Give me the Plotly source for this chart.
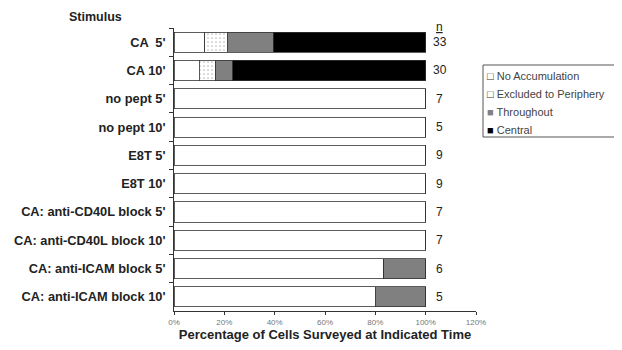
import plotly.graph_objects as go

categories = ["CA  5'", "CA 10'", "no pept 5'", "no pept 10'", "E8T 5'", "E8T 10'",
              "CA: anti-CD40L block 5'", "CA: anti-CD40L block 10'",
              "CA: anti-ICAM block 5'", "CA: anti-ICAM block 10'"]
n_cells = [33, 30, 7, 5, 9, 9, 7, 7, 6, 5]
no_accumulation = [4, 3, 7, 5, 9, 9, 7, 7, 5, 4]
excluded = [3, 2, 0, 0, 0, 0, 0, 0, 0, 0]
throughout = [6, 2, 0, 0, 0, 0, 0, 0, 1, 1]
central = [20, 23, 0, 0, 0, 0, 0, 0, 0, 0]
x_ticks = [0, 20, 40, 60, 80, 100, 120]

def pct(counts):
    return [c / n * 100 for c, n in zip(counts, n_cells)]

series = [
    ("No Accumulation", no_accumulation, "white", "", "□", "#333333"),
    ("Excluded to Periphery", excluded, "white", ".", "□", "#333333"),
    ("Throughout", throughout, "#808080", "", "■", "#808080"),
    ("Central", central, "black", "", "■", "#000000"),
]

# page body has an 8px default margin; size the figure to fit the window
OFF = 8
W, H = 622 - OFF, 350 - OFF
PL, PR, PT, PB = 174, 476, 28, 311          # plot area in screen pixels
L, T = PL - OFF, PT - OFF
R, B = W - (PR - OFF), H - (PB - OFF)
pw, ph = PR - PL, PB - PT

def px_x(px):
    return (px - PL) / pw

def px_y(py):
    return (PB - py) / ph

fig = go.Figure()
for name, counts, color, pat, sym, symcol in series:
    fig.add_trace(go.Bar(
        y=categories, x=pct(counts), name=name, orientation="h", showlegend=False,
        marker=dict(color=color, line=dict(color="#333333", width=0.8),
                    pattern=dict(shape=pat, fgcolor="#777777", size=4, solidity=0.15)),
    ))

font = "Liberation Sans, Arial, sans-serif"
annotations = [dict(x=105.5, y=c, xref="x", yref="y", text=str(n), showarrow=False,
                    font=dict(family=font, size=12, color="#222222"), xanchor="center")
               for c, n in zip(categories, n_cells)]
annotations.append(dict(x=105.5, y=px_y(27), xref="x", yref="paper", text="<u>n</u>", showarrow=False,
                        yanchor="middle", font=dict(family=font, size=12, color="#222222")))
annotations.append(dict(x=px_x(67), y=px_y(17), xref="paper", yref="paper", text="<b>Stimulus</b>",
                        showarrow=False, xanchor="left", yanchor="middle",
                        font=dict(family=font, size=12.5, color="#222222")))

legend_y = [76, 94, 112, 130]
for (name, counts, color, pat, sym, symcol), ly in zip(series, legend_y):
    annotations.append(dict(
        x=px_x(485), y=px_y(ly), xref="paper", yref="paper", showarrow=False,
        xanchor="left", yanchor="middle",
        text=f"<span style='color:{symcol}'>{sym}</span> {name}",
        font=dict(family=font, size=11, color="#444444")))

shapes = [dict(type="rect", xref="paper", yref="paper", x0=px_x(483), x1=px_x(618),
               y0=px_y(137), y1=px_y(65), line=dict(color="#555555", width=1))]

fig.update_layout(
    barmode="stack", bargap=0.29, width=W, height=H,
    margin=dict(l=L, r=R, t=T, b=B, autoexpand=False),
    plot_bgcolor="white", paper_bgcolor="white",
    font=dict(family=font, color="#222222"),
    annotations=annotations, shapes=shapes, showlegend=False,
    xaxis=dict(range=[0, 120], tickvals=x_ticks, ticktext=[f"{v}%" for v in x_ticks],
               showgrid=False, showline=True, linecolor="#333333", ticks="outside", ticklen=3,
               tickcolor="#333333", tickfont=dict(size=8, color="#777777"), zeroline=False,
               automargin=False,
               title=dict(text="<b>Percentage of Cells Surveyed at Indicated Time</b>",
                          font=dict(size=13, color="#222222"), standoff=4)),
    yaxis=dict(autorange="reversed", showline=True, linecolor="#333333", ticks="outside",
               ticklen=4, tickson="boundaries", tickcolor="#333333", showgrid=False,
               automargin=False, ticklabelstandoff=5,
               tickfont=dict(size=12.8, color="#222222"),
               tickprefix="<b>", ticksuffix="</b>"),
)
fig.write_html("out.html")
